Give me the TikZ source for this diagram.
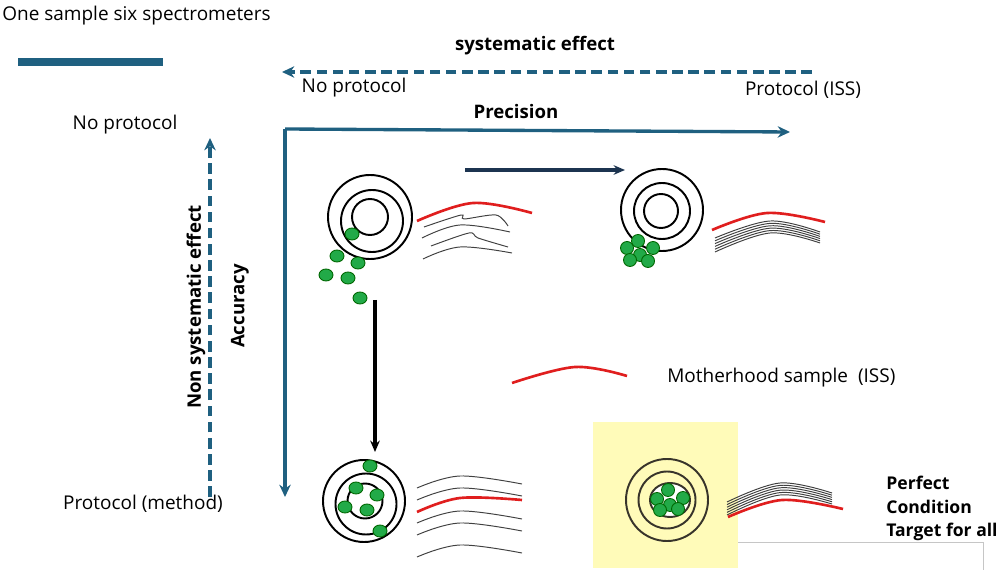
\documentclass[tikz,border=0pt]{standalone}
\usepackage{fontspec}
\setmainfont{Open Sans}
\usepackage{tikz}
\usetikzlibrary{arrows.meta,positioning}

\definecolor{axisblue}{RGB}{31,96,128}
\definecolor{navy}{RGB}{28,52,80}
\definecolor{curvered}{RGB}{224,30,30}
\definecolor{dotgreen}{RGB}{34,170,72}
\definecolor{paleyellow}{RGB}{255,251,185}

\begin{document}
\begin{tikzpicture}[x=0.02cm, y=-0.02cm,
            axis/.style={-{Stealth[length=7pt,width=6.5pt]}, draw=axisblue, line width=1.9pt},
            effect/.style={axis, line width=2pt, dash pattern=on 6pt off 3.2pt},
            move/.style={-{Stealth[length=6.5pt,width=5.5pt]}, line width=1.9pt},
            ring/.style={draw=black, line width=1.1pt},
            dot/.style={fill=dotgreen, draw=black!60!green, line width=0.5pt},
            spec/.style={draw=black!75, line width=0.55pt},
            mother/.style={draw=curvered, line width=1.5pt},
            label/.style={inner sep=0pt, font=\fontsize{10.8}{13}\selectfont},
            bold/.style={inner sep=0pt, font=\fontsize{10.6}{13}\selectfont\bfseries}
        ]

        \useasboundingbox (0,0) rectangle (1000,570);

        \node[label, anchor=west] (title) at (2,16) {One sample six spectrometers};
        \draw[axisblue, line width=4.5pt] (18,62) -- (163,62);

        % axes
        \node[bold] (syseff) at (535,46) {systematic effect};
        \coordinate (sysStart) at (812,72);
        \coordinate (sysEnd) at (282,72);
        \draw[effect] (sysStart) -- (sysEnd);
        \node[label] (noprotTop) at (354,88) {No protocol};
        \node[label] (protISS) at (803,90) {Protocol (ISS)};
        \node[bold] (precision) at (516,112) {Precision};

        \coordinate (corner) at (285,129);
        \coordinate (precEnd) at (790,132);
        \coordinate (accEnd) at (285,497);
        \draw[axis] (corner) -- (precEnd);
        \draw[axis] (corner) -- (accEnd);

        \node[label] (noprotLeft) at (125,125) {No protocol};
        \coordinate (nseStart) at (210,497);
        \coordinate (nseEnd) at (210,138);
        \draw[effect] (nseStart) -- (nseEnd);
        \node[bold, rotate=90] (nonsys) at (196,307) {Non systematic effect};
        \node[bold, rotate=90] (accuracy) at (240,306) {Accuracy};
        \node[label] (protMethod) at (143,504) {Protocol (method)};

        \coordinate (moveA) at (465,170);
        \coordinate (moveB) at (625,170);
        \draw[move, navy] (moveA) -- (moveB);
        \coordinate (moveC) at (375,300);
        \coordinate (moveD) at (375,452);
        \draw[move, black] (moveC) -- (moveD);

        % yellow target
        \fill[paleyellow] (593,422) rectangle (738,568);
        \draw[gray!45, line width=0.4pt] (738,542) -- (983,542) -- (983,570);

        % top left: no protocol
        \draw[ring] (370,217) circle (42);
        \draw[ring] (372,221) circle (31);
        \draw[ring] (370,217) circle (18);
        \foreach \px/\py in {352/234, 337/256, 358/263, 326/275, 348/278, 360/298}
            \draw[dot] (\px,\py) ellipse [x radius=7, y radius=6];
        \draw[mother] plot[smooth, tension=0.6] coordinates {(417,221) (473,203) (532,213)};
        \draw[spec] plot[smooth, tension=0.5] coordinates {(424,227) (461,215) (464,219) (496,215) (508,226)};
        \draw[spec] plot[smooth, tension=0.6] coordinates {(422,238) (460,225) (510,232)};
        \draw[spec] plot[smooth, tension=0.5] coordinates {(431,246) (469,233) (478,238) (508,247)};
        \draw[spec] plot[smooth, tension=0.6] coordinates {(423,259) (460,247) (512,253)};

        % top right: protocol, precision only
        \draw[ring] (662,210) circle (41);
        \draw[ring] (662,211) circle (28);
        \draw[ring] (661,211) circle (17);
        \foreach \px/\py in {638/241, 627/248, 653/248, 640/255, 630/260, 648/261}
            \draw[dot] (\px,\py) circle (6.5);
        \draw[mother] plot[smooth, tension=0.6] coordinates {(712,230) (767,213) (825,222)};
        \foreach \k in {0,...,5}
            \draw[spec] plot[smooth, tension=0.6] coordinates {(715,238+2.8*\k) (770,221+2.4*\k) (820,232+2.2*\k)};

        % bottom left: accuracy only
        \draw[ring] (364,501) circle (41);
        \draw[ring] (366,504) circle (30.5);
        \draw[ring] (365,501) circle (17.5);
        \foreach \px/\py in {370/466, 356/488, 377/495, 345/507, 367/510, 380/531}
            \draw[dot] (\px,\py) ellipse [x radius=7, y radius=6];
        \foreach \yy in {488, 500, 523, 535, 557}
            \draw[spec] plot[smooth, tension=0.6] coordinates {(417,\yy) (460,\yy-12) (522,\yy-4)};
        \draw[mother] plot[smooth, tension=0.6] coordinates {(417,512) (460,498) (522,500)};

        % bottom right: perfect condition
        \draw[ring, draw=black!80!olive] (667,500) circle (41);
        \draw[ring, draw=black!80!olive] (667,500) circle (28.5);
        \fill[white] (670,500) ellipse [x radius=20, y radius=17];
        \draw[ring, draw=black!80!olive] (670,500) ellipse [x radius=20, y radius=17];
        \foreach \px/\py in {668/490, 657/499, 683/498, 670/505, 660/510, 678/509}
            \draw[dot] (\px,\py) circle (6.5);
        \foreach \k in {0,...,5}
            \draw[spec] plot[smooth, tension=0.6] coordinates {(727,502+2.6*\k) (780,483+2.4*\k) (832,493+2.2*\k)};
        \draw[mother] plot[smooth, tension=0.6] coordinates {(728,517) (782,500) (843,509)};
        \node[anchor=north west, align=left, inner sep=0pt, font=\fontsize{10}{13.3}\selectfont\bfseries] (perfect) at (886,476)
            {Perfect\\Condition\\Target for all};

        % legend
        \draw[mother] plot[smooth, tension=0.6] coordinates {(512,383) (575,367) (627,376)};
        \node[label, anchor=west] (mother) at (667,378) {Motherhood sample\ \ (ISS)};

    \end{tikzpicture}
\end{document}
